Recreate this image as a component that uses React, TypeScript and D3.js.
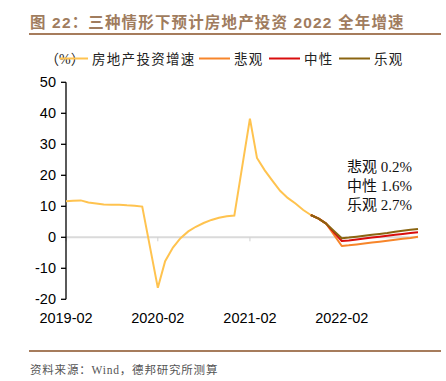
import React from "react";
import * as d3 from "d3";

const histMonths = [
  "2019-02","2019-03","2019-04","2019-05","2019-06","2019-07","2019-08","2019-09","2019-10","2019-11","2019-12",
  "2020-02","2020-03","2020-04","2020-05","2020-06","2020-07","2020-08","2020-09","2020-10","2020-11","2020-12",
  "2021-02","2021-03","2021-04","2021-05","2021-06","2021-07","2021-08","2021-09","2021-10","2021-11","2021-12",
];
const histValues = [
  11.6, 11.8, 11.9, 11.2, 10.9, 10.6, 10.5, 10.5, 10.3, 10.2, 9.9,
  -16.3, -7.7, -3.3, -0.3, 1.9, 3.4, 4.6, 5.6, 6.3, 6.8, 7.0,
  38.3, 25.6, 21.6, 18.3, 15.0, 12.7, 10.9, 8.8, 7.2, 6.0, 4.4,
];
const fcMonths = [
  "2021-10","2021-11","2021-12",
  "2022-02","2022-03","2022-04","2022-05","2022-06","2022-07","2022-08","2022-09","2022-10","2022-11","2022-12",
];
const pessimistic = [7.2, 6.0, 4.4, -2.8, -2.6, -2.3, -2.0, -1.7, -1.4, -1.1, -0.8, -0.5, -0.2, 0.2];
const neutral = [7.2, 6.0, 4.4, -1.2, -1.0, -0.7, -0.4, -0.1, 0.2, 0.5, 0.8, 1.1, 1.4, 1.6];
const optimistic = [7.2, 6.0, 4.4, -0.3, -0.1, 0.2, 0.5, 0.8, 1.1, 1.4, 1.8, 2.1, 2.4, 2.7];

const xTickLabels = ["2019-02", "2020-02", "2021-02", "2022-02"];
const yTicks = [-20, -10, 0, 10, 20, 30, 40, 50];
const legendNames = ["房地产投资增速", "悲观", "中性", "乐观"];
const annotations = ["悲观 0.2%", "中性 1.6%", "乐观 2.7%"];

const colors = ["#FFC34F", "#F7852A", "#D90D0D", "#8A6410"];
const parse = d3.timeParse("%Y-%m");

export default function App() {
  const x = d3.scaleTime().domain([parse("2019-02")!, parse("2022-12")!]).range([66, 418]);
  const y = d3.scaleLinear().domain([-20, 50]).range([299.3, 82.3]);
  const line = d3
    .line<[string, number]>()
    .x((d) => x(parse(d[0])!))
    .y((d) => y(d[1]));
  const hist = histMonths.map((m, i) => [m, histValues[i]] as [string, number]);
  const fc = [pessimistic, neutral, optimistic].map((s) =>
    fcMonths.map((m, i) => [m, s[i]] as [string, number])
  );
  const sans = "'Liberation Sans', Arial, 'Noto Sans CJK SC', sans-serif";
  const cjk = "'Liberation Serif', 'Noto Sans CJK SC', serif";
  const legendItems = [
    { x1: 60, x2: 88, tx: 92 },
    { x1: 199, x2: 230, tx: 234 },
    { x1: 269, x2: 300, tx: 304 },
    { x1: 339, x2: 370, tx: 374 },
  ];
  return (
    <svg
      width={446}
      height={381}
      style={{ position: "absolute", left: 0, top: 0, background: "#fff" }}
    >
      <text x={30} y={28} fontFamily={sans} fontWeight="bold" fontSize={15.5} fill="#A07C5E" letterSpacing={1.15}>
        图 22：三种情形下预计房地产投资 2022 全年增速
      </text>
      <line x1={29} x2={441} y1={34} y2={34} stroke="#A67C5C" strokeWidth={2} />

      {/* legend */}
      <text x={45} y={63.5} fontFamily={cjk} fontSize={14} fill="#222">（%）</text>
      {legendItems.map((l, i) => (
        <g key={i}>
          <line x1={l.x1} x2={l.x2} y1={58.5} y2={58.5} stroke={colors[i]} strokeWidth={2} />
          <text x={l.tx} y={63.5} fontFamily={cjk} fontSize={13.5} fill="#222" letterSpacing={1.3}>
            {legendNames[i]}
          </text>
        </g>
      ))}

      {/* zero line */}
      <line x1={66} x2={418} y1={y(0)} y2={y(0)} stroke="#DADADA" strokeWidth={2} />
      {xTickLabels.map((t) => (
        <line key={t} x1={x(parse(t)!)} x2={x(parse(t)!)} y1={y(0)} y2={y(0) + 4} stroke="#D0D0D0" strokeWidth={1} />
      ))}

      {/* y axis */}
      <line x1={66} x2={66} y1={y(50)} y2={y(-20)} stroke="#000" strokeWidth={1.3} />
      {yTicks.map((t) => (
        <g key={t}>
          <line x1={61} x2={66} y1={y(t)} y2={y(t)} stroke="#000" strokeWidth={1.3} />
          <text x={56} y={y(t) + 5} textAnchor="end" fontFamily={sans} fontSize={14.5} fill="#000">
            {t}
          </text>
        </g>
      ))}

      {/* x labels */}
      {xTickLabels.map((t) => (
        <text key={t} x={x(parse(t)!)} y={323} textAnchor="middle" fontFamily={sans} fontSize={14.5} fill="#000">
          {t}
        </text>
      ))}

      {/* lines */}
      <path d={line(hist)!} fill="none" stroke={colors[0]} strokeWidth={2} />
      {fc.map((s, i) => (
        <path key={i} d={line(s)!} fill="none" stroke={colors[i + 1]} strokeWidth={2} strokeLinejoin="round" />
      ))}

      {/* annotations */}
      {annotations.map((a, i) => (
        <text key={a} x={347} y={172 + i * 18.8} fontFamily={cjk} fontSize={15} fill="#111">
          {a}
        </text>
      ))}

      <line x1={29} x2={441} y1={351} y2={351} stroke="#A67C5C" strokeWidth={2} />
      <text x={30} y={374} fontFamily={cjk} fontSize={11.5} fill="#555" letterSpacing={0.8}>
        资料来源：Wind，德邦研究所测算
      </text>
    </svg>
  );
}
